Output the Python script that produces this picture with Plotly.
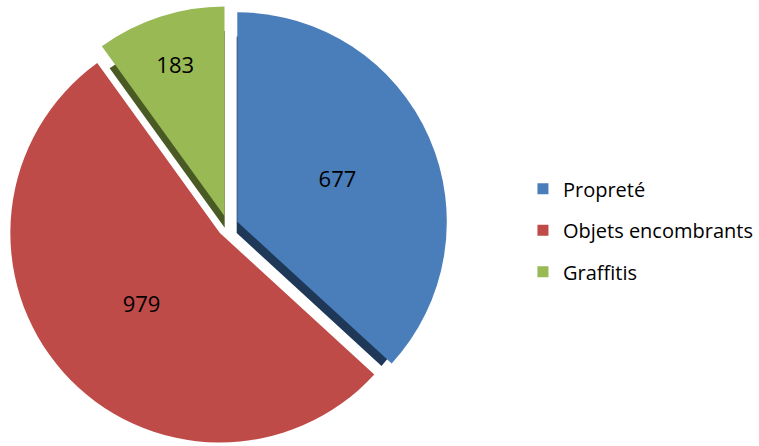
import plotly.graph_objects as go

labels = ["Propreté", "Objets encombrants", "Graffitis"]
values = [677, 979, 183]
colors = ["#4A7EBB", "#BE4B48", "#98B954"]
edge_colors = ["#1F3858", "#7A2C2A", "#4A5A24"]
pulls = [0.05, 0.05, 0.05]

fig = go.Figure()

# darker copy behind the pie: gives the bevelled edges
fig.add_trace(go.Pie(
    labels=labels,
    values=values,
    sort=False,
    direction="clockwise",
    rotation=0,
    pull=pulls,
    marker=dict(colors=edge_colors, line=dict(width=0)),
    textinfo="none",
    hoverinfo="skip",
    domain=dict(x=[0.01, 0.59], y=[0.006, 0.944]),
    showlegend=False,
))

fig.add_trace(go.Pie(
    labels=labels,
    values=values,
    sort=False,
    direction="clockwise",
    rotation=0,
    pull=pulls,
    marker=dict(colors=colors, line=dict(width=0)),
    textinfo="value",
    textposition="inside",
    insidetextorientation="horizontal",
    textfont=dict(family="Open Sans", size=22, color="#000000"),
    domain=dict(x=[0.01, 0.59], y=[0, 1]),
    showlegend=False,
))

for lab, col in zip(labels, colors):
    fig.add_trace(go.Scatter(
        x=[None], y=[None], mode="markers", name=lab,
        legendgroup=lab,
        marker=dict(symbol="square", size=11, color=col),
        showlegend=True,
    ))

fig.update_layout(
    width=759, height=446,
    margin=dict(l=0, r=0, t=6, b=0, autoexpand=False),
    paper_bgcolor="white",
    plot_bgcolor="white",
    xaxis=dict(visible=False),
    yaxis=dict(visible=False),
    legend=dict(
        x=0.689, y=0.629, xanchor="left", yanchor="top",
        font=dict(family="Open Sans", size=20, color="#000000"),
        tracegroupgap=12.5,
    ),
)

fig.write_html("out.html")
